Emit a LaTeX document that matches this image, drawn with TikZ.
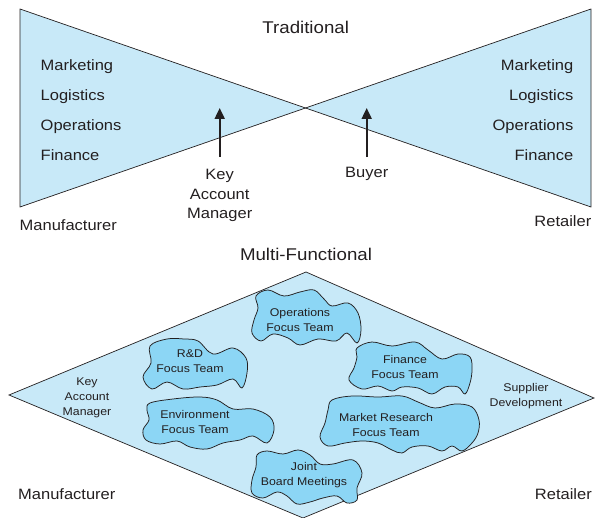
\documentclass[tikz,border=0pt]{standalone}
\usepackage{fontspec}
\setmainfont{Liberation Sans}[FakeStretch=1.1]
\usetikzlibrary{arrows.meta}
\definecolor{tribg}{RGB}{200,233,248}
\definecolor{cloudbg}{RGB}{140,214,245}
\definecolor{ink}{RGB}{35,31,32}
\begin{document}
\begin{tikzpicture}[x=1pt,y=-1pt,
  shape outline/.style={draw=ink,line width=0.7pt,fill=tribg,line join=miter},
  blob/.style={draw=ink,line width=0.75pt,fill=cloudbg},
  biglabel/.style={font=\fontsize{15}{19.5}\selectfont,text=ink,inner sep=0pt},
  titlelabel/.style={font=\fontsize{17}{20}\selectfont,text=ink,inner sep=0pt},
  smalllabel/.style={font=\fontsize{11.2}{15}\selectfont,text=ink,align=center,inner sep=0pt},
  uparrow/.style={-{Triangle[length=11pt,width=10pt]},line width=1.9pt,draw=ink}
]
\useasboundingbox (0,0) rectangle (595,518);

% ---------- Traditional ----------
\filldraw[shape outline] (20,9) -- (305.5,108) -- (20,207) -- cycle;
\filldraw[shape outline] (591,9) -- (305.5,108) -- (591,207) -- cycle;

\node[titlelabel,anchor=base] (trad) at (305.7,33.3) {Traditional};

\node[biglabel,anchor=base west] (lm1) at (40.5,70.7) {Marketing};
\node[biglabel,anchor=base west] (lm2) at (40.5,100.5) {Logistics};
\node[biglabel,anchor=base west] (lm3) at (40.5,130.5) {Operations};
\node[biglabel,anchor=base west] (lm4) at (40.5,160.7) {Finance};

\node[biglabel,anchor=base east] (rm1) at (573.5,70.7) {Marketing};
\node[biglabel,anchor=base east] (rm2) at (573.5,100.5) {Logistics};
\node[biglabel,anchor=base east] (rm3) at (573.5,130.5) {Operations};
\node[biglabel,anchor=base east] (rm4) at (573.5,160.7) {Finance};

\node[biglabel,align=center,anchor=center] (kam) at (219.7,195.7) {Key\\Account\\Manager};
\node[biglabel,anchor=base] (buyer) at (366.7,177.5) {Buyer};

\coordinate (kamtip) at (219.7,108);
\coordinate (buyertip) at (366.7,108);
\draw[uparrow,shorten <=12.3pt] (kam.north) -- (kamtip);
\draw[uparrow,shorten <=9.8pt] (buyer.north) -- (buyertip);

\node[biglabel,anchor=base west] (manu1) at (19.5,230.7) {Manufacturer};
\node[biglabel,anchor=base east] (ret1) at (591.5,226.7) {Retailer};

% ---------- Multi-Functional ----------
\node[titlelabel,anchor=base] (multi) at (306,260.7) {Multi-Functional};

\filldraw[shape outline] (9,395) -- (306,272) -- (594,398) -- (303,518) -- cycle;

% clouds
\draw[blob] plot[smooth cycle,tension=0.6] coordinates {
 (256,296) (268,290) (284,296) (300,292) (314,290) (324,299) (332,306) (348,303)
 (358,313) (361,330) (357,343) (347,333) (336,341) (318,339) (300,345) (288,338)
 (273,334) (261,341) (252,333) (254,320) (258,308)};
\draw[blob] plot[smooth cycle,tension=0.6] coordinates {
 (150,346) (167,339) (184,339) (198,341) (213,354) (233,348) (246,358) (247,373)
 (242,388) (233,379) (217,385) (200,387) (183,389) (167,382) (152,389) (143,377)
 (151,363)};
\draw[blob] plot[smooth cycle,tension=0.6] coordinates {
 (150,403) (173,399) (200,397) (217,400) (233,409) (253,409) (270,417) (274,430)
 (267,443) (253,436) (240,440) (223,443) (207,449) (190,447) (177,441) (160,444)
 (146,440) (143,430) (149,420) (147,410)};
\draw[blob] plot[smooth cycle,tension=0.6] coordinates {
 (257,455) (267,451) (283,454) (298,450) (310,455) (320,464) (333,464) (353,460)
 (362,473) (357,488) (357,500) (347,503) (337,496) (323,498) (310,502) (297,504)
 (287,496) (277,492) (263,498) (252,493) (252,480) (256,467)};
\draw[blob] plot[smooth cycle,tension=0.6] coordinates {
 (357,348) (372,342) (392,346) (415,342) (428,350) (442,359) (458,354) (470,357)
 (472,370) (470,383) (465,394) (458,387) (445,387) (432,394) (418,388) (402,387)
 (392,391) (378,386) (362,389) (349,380) (354,368) (357,357)};
\draw[blob] plot[smooth cycle,tension=0.6] coordinates {
 (332,400) (352,396) (378,397) (402,396) (418,402) (435,408) (455,404) (472,407)
 (479,420) (478,433) (472,443) (462,451) (452,446) (442,451) (428,446) (412,447)
 (402,453) (392,450) (378,443) (362,441) (345,443) (328,446) (320,437) (325,423)
 (328,410)};

\node[smalllabel] (ops) at (300,319.5) {Operations\\Focus Team};
\node[smalllabel] (rd) at (190,361.5) {R\&D\\Focus Team};
\node[smalllabel] (env) at (195,422) {Environment\\Focus Team};
\node[smalllabel] (joint) at (304,475.6) {Joint\\Board Meetings};
\node[smalllabel] (fin) at (405,366.5) {Finance\\Focus Team};
\node[smalllabel] (mr) at (386,425) {Market Research\\Focus Team};

\node[smalllabel] (kam2) at (87,398) {Key\\Account\\Manager};
\node[smalllabel] (supp) at (526,396.6) {Supplier\\Development};

\node[biglabel,anchor=base west] (manu2) at (18,500) {Manufacturer};
\node[biglabel,anchor=base east] (ret2) at (592,499.5) {Retailer};
\end{tikzpicture}
\end{document}
